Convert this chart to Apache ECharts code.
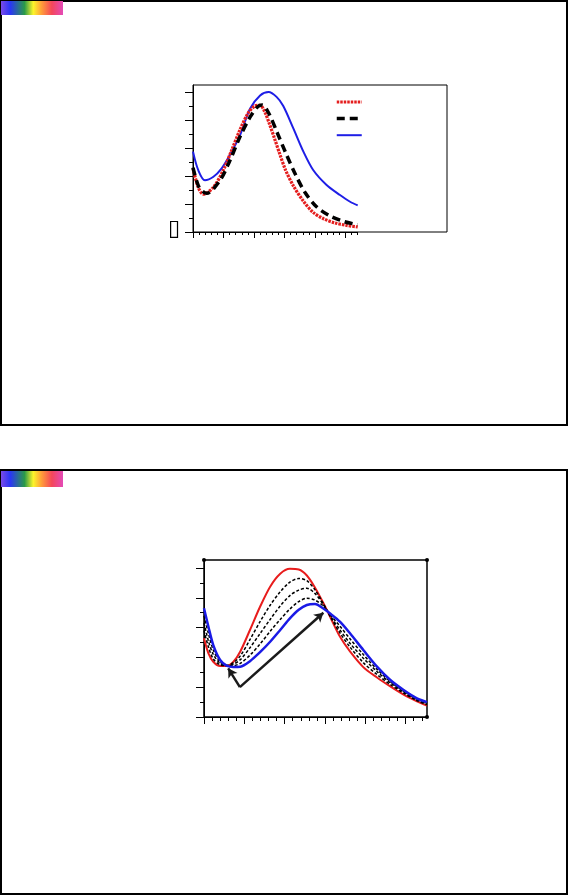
<!DOCTYPE html>
<html>
<head>
<meta charset="utf-8">
<title>spectra</title>
<script src="https://cdn.jsdelivr.net/npm/echarts@6/dist/echarts.min.js"></script>
<style>
  html, body { margin: 0; padding: 0; background: #fff; }
  #main { width: 569px; height: 896px; }
</style>
</head>
<body>
<div id="main"></div>
<script>
// ---- top chart: three spectra, [x, y]
const topRed = [[0, 0.455], [1.7, 0.32], [3.4, 0.27], [6.7, 0.32], [9.9, 0.44], [12.7, 0.585], [15.4, 0.73],
  [18.1, 0.85], [20.3, 0.9], [22, 0.905], [23.5, 0.86], [25.1, 0.77], [26.7, 0.67], [28.4, 0.56], [30.4, 0.44],
  [32.9, 0.33], [36.2, 0.22], [39.4, 0.14], [42.8, 0.095], [46.5, 0.065], [50.4, 0.047], [54, 0.036]]
const topBlack = [[0, 0.46], [2, 0.32], [4.5, 0.276], [8.9, 0.37], [12.1, 0.51], [15.4, 0.68], [18.7, 0.82],
  [21.2, 0.895], [22.7, 0.907], [24.8, 0.85], [27.6, 0.71], [30.5, 0.56], [33.6, 0.41], [36.8, 0.28],
  [40.5, 0.18], [44.9, 0.115], [49.5, 0.075], [54, 0.052]]
const topBlue = [[0, 0.574], [1.7, 0.443], [3.9, 0.37], [6.7, 0.395], [9.4, 0.455], [12.1, 0.55], [15.4, 0.69],
  [18.7, 0.88], [22, 0.975], [24.8, 1.0], [27.4, 0.965], [29.6, 0.9], [32.9, 0.74], [36.2, 0.574],
  [39.4, 0.443], [43.8, 0.336], [48.2, 0.264], [51.5, 0.216], [54, 0.19]]

// ---- bottom chart: family of spectra sharing one x grid
const botX = [0, 1.1, 2.3, 4, 5.6, 7.3, 9, 11.4, 13.9, 16.4, 18.9, 21.3, 23.5, 25.5, 27.5, 29.6, 31.5, 33.7,
  36.2, 39.5, 42.9, 46.2, 49.5, 52.8, 55.3]
const botRed = [0.528, 0.427, 0.371, 0.342, 0.342, 0.371, 0.44, 0.584, 0.74, 0.875, 0.962, 0.995, 0.99, 0.95,
  0.87, 0.765, 0.66, 0.54, 0.44, 0.335, 0.265, 0.205, 0.15, 0.105, 0.076]
const botDash1 = [0.58, 0.47, 0.39, 0.35, 0.345, 0.365, 0.41, 0.52, 0.64, 0.75, 0.84, 0.905, 0.93, 0.915,
  0.855, 0.76, 0.665, 0.565, 0.47, 0.365, 0.285, 0.218, 0.16, 0.11, 0.082]
const botDash2 = [0.63, 0.51, 0.42, 0.36, 0.345, 0.355, 0.385, 0.465, 0.56, 0.655, 0.745, 0.815, 0.852, 0.864,
  0.83, 0.755, 0.672, 0.585, 0.495, 0.395, 0.305, 0.23, 0.168, 0.115, 0.088]
const botDash3 = [0.68, 0.56, 0.45, 0.37, 0.345, 0.345, 0.36, 0.415, 0.49, 0.575, 0.655, 0.725, 0.775, 0.797,
  0.785, 0.745, 0.68, 0.61, 0.525, 0.42, 0.32, 0.238, 0.174, 0.12, 0.094]
const botBlue = [0.73, 0.606, 0.483, 0.383, 0.345, 0.336, 0.338, 0.375, 0.435, 0.505, 0.584, 0.662, 0.72, 0.752,
  0.758, 0.728, 0.69, 0.64, 0.562, 0.45, 0.338, 0.248, 0.181, 0.125, 0.1]
const arrowVertex = [8.9, 0.201]
const arrowLeftTip = [6.0, 0.327]
const arrowRightTip = [29.6, 0.7]

// ---- ticks
const xMinorTicks = [0, 2, 4, 6, 8, 10, 12, 14, 16, 18, 20, 22, 24, 26, 28, 30, 32, 34, 36, 38, 40, 42, 44,
  46, 48, 50, 52, 54]
const xMajorTicks = [0, 10, 20, 30, 40, 50]
const yMinorTicks = [0.1, 0.3, 0.5, 0.7, 0.9]
const yMajorTicks = [0, 0.2, 0.4, 0.6, 0.8, 1.0]

const zip = (xs, ys) => xs.map((x, i) => [x, ys[i]])

const redDots = { color: '#e41e1e', width: 3.2, type: [2.5, 1] }
const blackDash = { color: '#000', width: 3.5, type: [8, 5] }
const blueLine = { color: '#1e1ee6', width: 2, type: 'solid' }

const rainbow = new echarts.graphic.LinearGradient(0, 0, 1, 0, [
  { offset: 0, color: '#7a4ae8' },
  { offset: 0.15, color: '#2a36f5' },
  { offset: 0.38, color: '#2a9a48' },
  { offset: 0.52, color: '#fbf52a' },
  { offset: 0.66, color: '#ff9a3a' },
  { offset: 0.82, color: '#f4475a' },
  { offset: 1, color: '#e44ab8' }
])

// one tick-only axis (no line) laid over another
function tickAxis(dim, grid, max, values, len, withLine) {
  return {
    type: 'value',
    gridIndex: grid,
    position: dim === 'x' ? 'bottom' : 'left',
    offset: 0,
    min: 0,
    max: max,
    axisLine: { show: withLine, onZero: false, lineStyle: { color: '#000', width: 1 } },
    axisTick: { show: true, customValues: values, length: len, lineStyle: { color: '#000', width: 1 } },
    axisLabel: { show: false },
    splitLine: { show: false }
  }
}

const chart = echarts.init(document.getElementById('main'))
chart.setOption({
  animation: false,
  backgroundColor: '#fff',
  grid: [
    { left: 193, top: 85, width: 254, height: 147, show: true, borderColor: '#000', borderWidth: 1 },
    { left: 193, top: 85, width: 164.7, height: 147 },
    { left: 204, top: 560, width: 223, height: 157, show: true, borderColor: '#000', borderWidth: 1.5 }
  ],
  xAxis: [
    { type: 'value', gridIndex: 0, show: false, min: 0, max: 1 },
    tickAxis('x', 1, 54, xMinorTicks, 3, true),
    tickAxis('x', 1, 54, xMajorTicks, 6, false),
    tickAxis('x', 2, 55.3, xMinorTicks, 4, true),
    tickAxis('x', 2, 55.3, xMajorTicks, 7, false)
  ],
  yAxis: [
    { type: 'value', gridIndex: 0, show: false, min: 0, max: 1 },
    tickAxis('y', 1, 1.05, yMinorTicks, 4, true),
    tickAxis('y', 1, 1.05, yMajorTicks, 8, false),
    tickAxis('y', 2, 1.054, yMinorTicks, 4, true),
    tickAxis('y', 2, 1.054, yMajorTicks, 8, false)
  ],
  legend: {
    data: [
      { name: 'a', lineStyle: redDots },
      { name: 'b', lineStyle: blackDash },
      { name: 'c', lineStyle: blueLine }
    ],
    orient: 'vertical',
    left: 330,
    top: 90,
    itemWidth: 25,
    itemHeight: 14,
    itemGap: 4,
    itemStyle: { opacity: 0 },
    formatter: () => '',
    selectedMode: false
  },
  series: [
    {
      name: 'a', type: 'line', xAxisIndex: 1, yAxisIndex: 1, data: topRed, smooth: 0.3,
      symbol: 'none', lineStyle: redDots, itemStyle: { color: '#e41e1e' }, z: 3
    },
    {
      name: 'b', type: 'line', xAxisIndex: 1, yAxisIndex: 1, data: topBlack, smooth: 0.3,
      symbol: 'none', lineStyle: blackDash, itemStyle: { color: '#000' }, z: 4
    },
    {
      name: 'c', type: 'line', xAxisIndex: 1, yAxisIndex: 1, data: topBlue, smooth: 0.3,
      symbol: 'none', lineStyle: blueLine, itemStyle: { color: '#1e1ee6' }, z: 2
    },
    {
      type: 'line', xAxisIndex: 3, yAxisIndex: 3, data: zip(botX, botRed), smooth: 0.3,
      symbol: 'none', lineStyle: { color: '#e81c1c', width: 2 }
    },
    {
      type: 'line', xAxisIndex: 3, yAxisIndex: 3, data: zip(botX, botDash1), smooth: 0.3,
      symbol: 'none', lineStyle: { color: '#000', width: 1.5, type: [3, 2] }
    },
    {
      type: 'line', xAxisIndex: 3, yAxisIndex: 3, data: zip(botX, botDash2), smooth: 0.3,
      symbol: 'none', lineStyle: { color: '#000', width: 1.5, type: [3, 2] }
    },
    {
      type: 'line', xAxisIndex: 3, yAxisIndex: 3, data: zip(botX, botDash3), smooth: 0.3,
      symbol: 'none', lineStyle: { color: '#000', width: 1.5, type: [3, 2] }
    },
    {
      type: 'line', xAxisIndex: 3, yAxisIndex: 3, data: zip(botX, botBlue), smooth: 0.3,
      symbol: 'none', lineStyle: { color: '#1a1ae6', width: 2.5 },
      markLine: {
        silent: true,
        symbol: ['none', 'arrow'],
        symbolSize: [8, 9],
        label: { show: false },
        lineStyle: { color: '#1a1a1a', width: 2.5, type: 'solid' },
        data: [
          [{ coord: arrowVertex }, { coord: arrowLeftTip }],
          [{ coord: arrowVertex }, { coord: arrowRightTip }]
        ]
      }
    }
  ],
  graphic: [
    { type: 'rect', shape: { x: 1, y: 1, width: 566, height: 424 }, style: { fill: 'none', stroke: '#000', lineWidth: 2 } },
    { type: 'rect', shape: { x: 1, y: 1, width: 62, height: 14 }, style: { fill: rainbow } },
    { type: 'rect', shape: { x: 1, y: 470, width: 566, height: 424 }, style: { fill: 'none', stroke: '#000', lineWidth: 2 } },
    { type: 'rect', shape: { x: 1, y: 471, width: 62, height: 16 }, style: { fill: rainbow } },
    { type: 'text', x: 168, y: 218, style: { text: '▯', font: '22px DejaVu Sans', fill: '#000' } },
    { type: 'circle', shape: { cx: 204, cy: 560, r: 2 }, style: { fill: '#000' } },
    { type: 'circle', shape: { cx: 427, cy: 560, r: 2 }, style: { fill: '#000' } },
    { type: 'circle', shape: { cx: 427, cy: 717, r: 2 }, style: { fill: '#000' } }
  ]
})
</script>
</body>
</html>
